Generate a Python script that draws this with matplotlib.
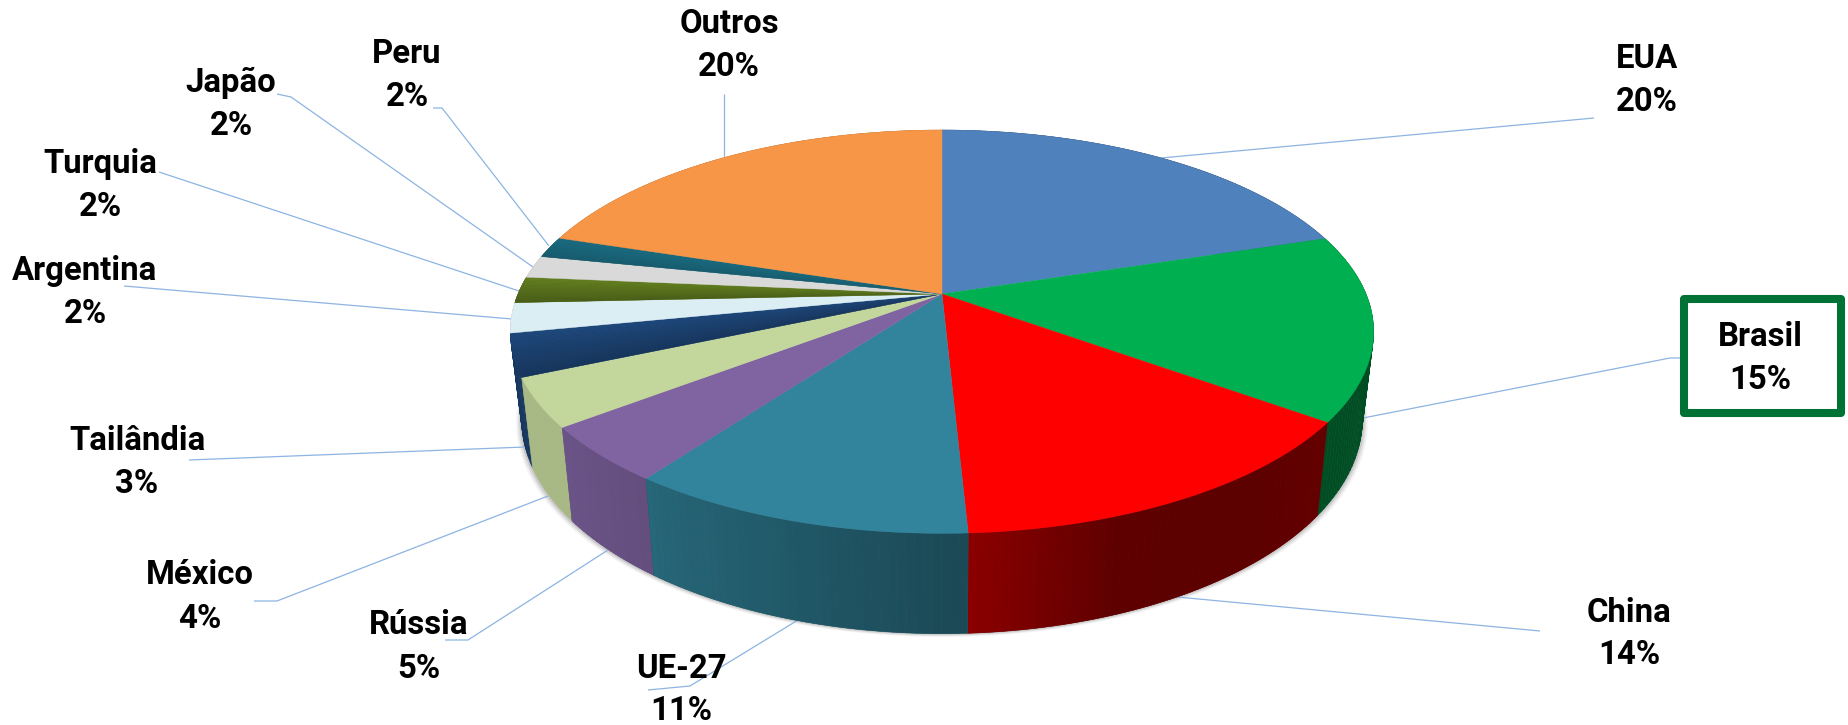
"""Perspective 3D pie of country shares, drawn on a pixel-sized axes."""

import matplotlib

matplotlib.use("Agg")
import matplotlib.pyplot as plt
import numpy as np
from matplotlib.collections import PolyCollection
from matplotlib.patches import Rectangle

COUNTRIES = ["EUA", "Brasil", "China", "UE-27", "Rússia", "México", "Tailândia",
             "Argentina", "Turquia", "Japão", "Peru", "Outros"]
PERCENT_LABELS = ["20%", "15%", "14%", "11%", "5%", "4%", "3%", "2%", "2%", "2%", "2%", "20%"]
# slice sizes as measured on the picture, slightly off the rounded labels
SHARES = [20.15, 14.85, 14.2, 10.9, 4.5, 3.9, 3.4, 2.4, 2.1, 1.8, 1.7, 20.1]

TOP_COLORS = ["#4F81BD", "#00B050", "#FF0000", "#31849B", "#8064A2", "#C3D69B",
              "#1F497D", "#DBEEF4", "#5F7A1F", "#D9D9D9", "#1B6B80", "#F79646"]
# brightness stops across each slice, first edge -> last edge (clockwise)
TOP_SHADE = [(1, 1), (1, 1), (1, 1), (1, 1), (1, 1), (1, 1),
             (0.72, 1), (1, 1), (0.75, 1.05), (1, 1), (0.85, 1), (1, 1)]
WALL_SHADE = [(0.5, 0.5), (0.44, 0.44), (0.39, 0.36, 0.37, 0.54), (0.55, 0.78), (0.78, 0.83),
              (0.86, 0.86), (0.75, 0.75), (0.8, 0.8), (0.7, 0.7), (0.8, 0.8), (0.7, 0.7), (0.7, 0.7)]

# label centres and leader lines, in picture pixels
LABEL_POS = [(1647, 80), (1760, 358), (1629, 634), (681, 690), (419, 647), (200, 597),
             (137, 462), (85, 292), (100, 185), (231, 104), (407, 75), (729, 45)]
LEADERS = [
    [(1161, 158), (1594, 118)],
    [(1363, 418), (1670, 358), (1680, 358)],
    [(1177, 597), (1540, 631)],
    [(798, 620), (690, 686), (648, 690)],
    [(608, 550), (468, 640), (445, 640)],
    [(548, 496), (277, 601), (254, 601)],
    [(525, 447), (189, 460)],
    [(512, 319), (124, 286)],
    [(519, 291), (159, 172)],
    [(533, 267), (291, 97), (277, 94)],
    [(549, 246), (442, 108), (433, 108)],
    [(724, 157), (724, 94)],
]

WIDTH, HEIGHT = 1849, 725
CX, CY = 942.0, 294.0
RIM_A, RIM_B, RIM_K = 424.0, 194.6, 0.187
BOTTOM_SX, BOTTOM_SY, BOTTOM_DY = 0.974, 1.064, 85.0
LEADER_COLOR = "#8DB4E2"
BOX_COLOR = "#007236"


def top_rim(deg):
    """Rim of the top face; deg runs clockwise from twelve o'clock."""
    rad = np.radians(deg)
    den = 1 + RIM_K * np.cos(rad)
    return RIM_A * np.sin(rad) / den, RIM_B * np.cos(rad) / den


def top_xy(deg):
    x, y = top_rim(deg)
    return CX + x, CY - y


def bottom_xy(deg):
    x, y = top_rim(deg)
    return CX + BOTTOM_SX * x, CY - BOTTOM_SY * y + BOTTOM_DY


def shaded(color, factor):
    rgb = np.array(matplotlib.colors.to_rgb(color)) * factor
    return tuple(np.clip(rgb, 0, 1))


def fan_strips(a0, a1, color, shade, step=1.0):
    """Split an angle range into thin strips, with interpolated colours."""
    count = max(2, int(np.ceil((a1 - a0) / step)))
    edges = np.linspace(a0, a1, count + 1)
    factors = np.interp(np.linspace(0, 1, count), np.linspace(0, 1, len(shade)), shade)
    return edges, [shaded(color, f) for f in factors]


def draw_walls(ax, starts, ends):
    # far sides first, so the front walls cover them
    order = sorted(range(len(SHARES)), key=lambda i: -abs((starts[i] + ends[i]) / 2 - 180))
    for i in order:
        edges, colors = fan_strips(starts[i], ends[i], TOP_COLORS[i], WALL_SHADE[i])
        polys = [[top_xy(lo), top_xy(hi), bottom_xy(hi), bottom_xy(lo)]
                 for lo, hi in zip(edges[:-1], edges[1:])]
        # same quads underneath in the mean colour, so seams between strips stay invisible
        base = shaded(TOP_COLORS[i], np.mean(WALL_SHADE[i]))
        ax.add_collection(PolyCollection(polys, facecolors=[base], edgecolors=[base],
                                         linewidths=0.4, zorder=2))
        if min(WALL_SHADE[i]) != max(WALL_SHADE[i]):
            ax.add_collection(PolyCollection(polys, facecolors=colors, edgecolors="none", zorder=2))


def draw_top(ax, starts, ends):
    for i in range(len(SHARES)):
        deg = np.linspace(starts[i], ends[i], 80)
        x, y = top_xy(deg)
        ax.fill(np.r_[CX, x], np.r_[CY, y], color=shaded(TOP_COLORS[i], np.mean(TOP_SHADE[i])),
                lw=0.3, zorder=3)
        if TOP_SHADE[i][0] == TOP_SHADE[i][1]:
            continue
        edges, colors = fan_strips(starts[i], ends[i], TOP_COLORS[i], TOP_SHADE[i], step=0.4)
        polys = [[(CX, CY), top_xy(lo), top_xy(hi)] for lo, hi in zip(edges[:-1], edges[1:])]
        ax.add_collection(PolyCollection(polys, facecolors=colors, edgecolors="none", zorder=3))


def draw_shadow(ax):
    deg = np.linspace(90, 270, 181)
    x, y = bottom_xy(deg)
    for grow, alpha in [(1.013, 0.06), (1.009, 0.1), (1.005, 0.14)]:
        ax.fill(CX + (x - CX) * grow, y + (grow - 1) * 250, color="#404040", alpha=alpha,
                lw=0, zorder=1)


def main():
    fig = plt.figure(figsize=(WIDTH / 100, HEIGHT / 100), dpi=100)
    ax = fig.add_axes([0, 0, 1, 1])
    ax.set_xlim(0, WIDTH)
    ax.set_ylim(HEIGHT, 0)
    ax.axis("off")

    cum = np.cumsum([0] + SHARES) / sum(SHARES) * 360
    starts, ends = cum[:-1], cum[1:]

    draw_shadow(ax)
    draw_walls(ax, starts, ends)
    draw_top(ax, starts, ends)

    for points in LEADERS:
        xs, ys = zip(*points)
        ax.plot(xs, ys, color=LEADER_COLOR, lw=0.9, zorder=1.5, solid_capstyle="butt")

    ax.add_patch(Rectangle((1684, 299), 157, 114, facecolor="white", edgecolor=BOX_COLOR,
                           lw=5.8, joinstyle="round", zorder=4))

    for name, pct, (x, y) in zip(COUNTRIES, PERCENT_LABELS, LABEL_POS):
        ax.text(x, y, f"{name}\n{pct}", ha="center", va="center", family="Roboto",
                weight="bold", fontsize=23.7, linespacing=1.44, color="black", zorder=5)

    fig.savefig("out.png", dpi=100)
    plt.close(fig)


main()
